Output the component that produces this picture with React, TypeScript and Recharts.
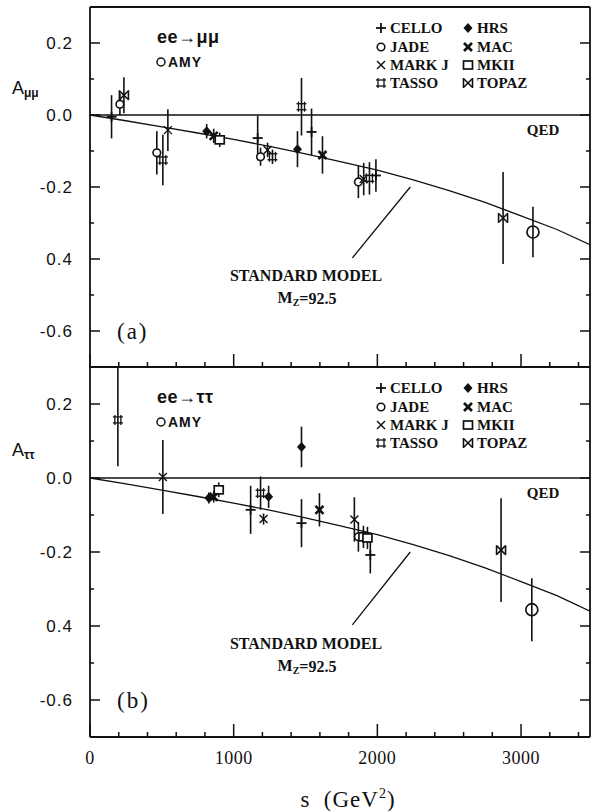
import React from 'react';
import { ComposedChart, Scatter, XAxis, YAxis, ErrorBar, ReferenceLine, Customized } from 'recharts';

// ---------- axes ----------
const xTicks = [0, 200, 400, 600, 800, 1000, 1200, 1400, 1600, 1800, 2000, 2200, 2400, 2600, 2800, 3000, 3200, 3400];
const xMajorTicks = [0, 1000, 2000, 3000];
const xTickLabels = ['0', '1000', '2000', '3000'];
const yTicks = [0.2, 0.1, 0, -0.1, -0.2, -0.3, -0.4, -0.5, -0.6];
const yMajorTicks = [0.2, 0, -0.2, -0.4, -0.6];
const yTickLabels = ['0.2', '0.0', '-0.2', '0.4', '-0.6'];

// ---------- standard model curve ----------
const smS = [0, 250, 500, 750, 1000, 1250, 1500, 1750, 2000, 2250, 2500, 2750, 3000, 3250, 3480];
const smA = [0, -0.016, -0.033, -0.05, -0.068, -0.087, -0.108, -0.13, -0.153, -0.18, -0.21, -0.243, -0.28, -0.318, -0.36];
const smData = smS.map((s, i) => ({ s, a: smA[i] }));

// ---------- (a) ee -> mu mu ----------
const muCELLO = [{ s: 150, a: -0.005, e: 0.06 }, { s: 1167, a: -0.064, e: 0.062 }, { s: 1542, a: -0.047, e: 0.065 }, { s: 1990, a: -0.168, e: 0.045 }];
const muJADE = [{ s: 208, a: 0.03, e: 0.03 }, { s: 465, a: -0.105, e: 0.06 }, { s: 1187, a: -0.116, e: 0.025 }, { s: 1868, a: -0.186, e: 0.045 }];
const muHRS = [{ s: 812, a: -0.045, e: 0.02 }, { s: 1444, a: -0.095, e: 0.05 }];
const muMAC = [{ s: 861, a: -0.058, e: 0.02 }, { s: 1618, a: -0.111, e: 0.052 }];
const muMARKJ = [{ s: 542, a: -0.042, e: 0.058 }, { s: 1236, a: -0.097, e: 0.02 }, { s: 1905, a: -0.178, e: 0.045 }];
const muMKII = [{ s: 903, a: -0.069, e: 0.02 }];
const muTASSO = [{ s: 507, a: -0.125, e: 0.07 }, { s: 1472, a: 0.023, e: 0.08 }, { s: 1270, a: -0.116, e: 0.02 }, { s: 1945, a: -0.176, e: 0.045 }];
const muTOPAZ = [{ s: 236, a: 0.055, e: 0.05 }, { s: 2875, a: -0.286, e: 0.128 }];
const muAMY = [{ s: 3083, a: -0.325, e: 0.07 }];

// ---------- (b) ee -> tau tau ----------
const tauCELLO = [{ s: 1118, a: -0.086, e: 0.065 }, { s: 1472, a: -0.122, e: 0.065 }, { s: 1951, a: -0.208, e: 0.05 }];
const tauJADE = [{ s: 1868, a: -0.159, e: 0.04 }];
const tauHRS = [{ s: 827, a: -0.054, e: 0.015 }, { s: 1243, a: -0.051, e: 0.03 }, { s: 1472, a: 0.084, e: 0.055 }];
const tauMAC = [{ s: 861, a: -0.051, e: 0.015 }, { s: 1597, a: -0.086, e: 0.045 }];
const tauMARKJ = [{ s: 507, a: 0.003, e: 0.1 }, { s: 1208, a: -0.111, e: 0.015 }, { s: 1840, a: -0.112, e: 0.06 }];
const tauMKII = [{ s: 896, a: -0.032, e: 0.02 }, { s: 1903, a: -0.159, e: 0.03 }, { s: 1931, a: -0.162, e: 0.03 }];
const tauTASSO = [{ s: 194, a: 0.157, e: [0.125, 0.14] }, { s: 1187, a: -0.041, e: 0.045 }];
const tauTOPAZ = [{ s: 2861, a: -0.195, e: 0.14 }];
const tauAMY = [{ s: 3075, a: -0.356, e: 0.085 }];

const legendCol1 = ['CELLO', 'JADE', 'MARK J', 'TASSO'];
const legendCol2 = ['HRS', 'MAC', 'MKII', 'TOPAZ'];

const INK = '#111';

function Marker({ kind, cx, cy }: { kind: string; cx: number; cy: number }) {
  switch (kind) {
    case 'CELLO':
      return (
        <g stroke={INK} strokeWidth={1.8}>
          <line x1={cx - 5} x2={cx + 5} y1={cy} y2={cy} />
          <line x1={cx} x2={cx} y1={cy - 5} y2={cy + 5} />
        </g>
      );
    case 'HRS':
      return <polygon points={`${cx},${cy - 5} ${cx + 4.5},${cy} ${cx},${cy + 5} ${cx - 4.5},${cy}`} fill={INK} />;
    case 'JADE':
      return <circle cx={cx} cy={cy} r={3.8} fill="#fff" stroke={INK} strokeWidth={1.6} />;
    case 'MAC':
      return (
        <g stroke={INK} strokeWidth={2.6}>
          <line x1={cx - 4} x2={cx + 4} y1={cy - 4} y2={cy + 4} />
          <line x1={cx - 4} x2={cx + 4} y1={cy + 4} y2={cy - 4} />
        </g>
      );
    case 'MARK J':
      return (
        <g stroke={INK} strokeWidth={1.4}>
          <line x1={cx - 4} x2={cx + 4} y1={cy - 4} y2={cy + 4} />
          <line x1={cx - 4} x2={cx + 4} y1={cy + 4} y2={cy - 4} />
        </g>
      );
    case 'MKII':
      return <rect x={cx - 4.5} y={cy - 4} width={9} height={8} fill="#fff" stroke={INK} strokeWidth={1.7} />;
    case 'TASSO':
      return (
        <g stroke={INK} strokeWidth={1.3}>
          <line x1={cx - 5} x2={cx + 5} y1={cy - 3} y2={cy - 3} />
          <line x1={cx - 5} x2={cx + 5} y1={cy + 3} y2={cy + 3} />
          <line x1={cx - 3} x2={cx - 3} y1={cy - 5} y2={cy + 5} />
          <line x1={cx + 3} x2={cx + 3} y1={cy - 5} y2={cy + 5} />
        </g>
      );
    case 'TOPAZ':
      return (
        <g stroke={INK} strokeWidth={1.6}>
          <line x1={cx - 4} x2={cx + 4} y1={cy - 4} y2={cy + 4} />
          <line x1={cx - 4} x2={cx + 4} y1={cy + 4} y2={cy - 4} />
          <line x1={cx - 4.5} x2={cx - 4.5} y1={cy - 5} y2={cy + 5} />
          <line x1={cx + 4.5} x2={cx + 4.5} y1={cy - 5} y2={cy + 5} />
        </g>
      );
    case 'AMY':
      return <circle cx={cx} cy={cy} r={6} fill="none" stroke={INK} strokeWidth={1.7} />;
    default:
      return <g />;
  }
}

const isMajorY = (v: number) => yMajorTicks.some((m) => Math.abs(m - v) < 1e-6);
const yLabelOf = (v: number) => yTickLabels[yMajorTicks.findIndex((m) => Math.abs(m - v) < 1e-6)];

function BottomTick(props: any, showLabel: boolean) {
  const { x, y, payload } = props;
  const v = payload.value;
  const idx = xMajorTicks.indexOf(v);
  const major = idx >= 0;
  return (
    <g>
      <line x1={x} x2={x} y1={y} y2={y - (major ? 13 : 5)} stroke={INK} strokeWidth={1.5} />
      {showLabel && major ? (
        <text x={x} y={y + 21} textAnchor="middle" dominantBaseline="central" fontFamily="Liberation Serif" fontSize={18} letterSpacing={0.5} fill={INK}>
          {xTickLabels[idx]}
        </text>
      ) : null}
    </g>
  );
}

function TopTick(props: any) {
  const { x, y, payload } = props;
  const major = xMajorTicks.indexOf(payload.value) >= 0;
  return <line x1={x} x2={x} y1={y} y2={y + (major ? 13 : 5)} stroke={INK} strokeWidth={1.5} />;
}

function LeftTick(props: any) {
  const { x, y, payload } = props;
  const major = isMajorY(payload.value);
  return (
    <g>
      <line x1={x} x2={x + (major ? 10 : 4)} y1={y} y2={y} stroke={INK} strokeWidth={1.5} />
      {major ? (
        <text x={x - 17} y={y} textAnchor="end" dominantBaseline="central" fontFamily="Liberation Sans" fontSize={17} letterSpacing={1} fill={INK}>
          {yLabelOf(payload.value)}
        </text>
      ) : null}
    </g>
  );
}

function RightTick(props: any) {
  const { x, y, payload } = props;
  const major = isMajorY(payload.value);
  return <line x1={x} x2={x - (major ? 10 : 4)} y1={y} y2={y} stroke={INK} strokeWidth={1.5} />;
}

type Series = { kind: string; data: any[] };

function Annotations({ zeroY, unit, process, sub, tag }: { zeroY: number; unit: number; process: string; sub: string; tag: string }) {
  const py = (a: number) => zeroY - a * unit;
  const top = py(0.3);
  const rows = [21, 40, 58, 76];
  return (
    <g fill={INK}>
      <text x={157} y={top + 30} dominantBaseline="central" fontFamily="Liberation Sans" fontWeight="bold" fontSize={18} letterSpacing={0.5}>
        {process}
      </text>
      <circle cx={161} cy={top + 55} r={4} fill="none" stroke={INK} strokeWidth={1.5} />
      <text x={168} y={top + 55} dominantBaseline="central" fontFamily="Liberation Sans" fontWeight="bold" fontSize={14} letterSpacing={1}>
        AMY
      </text>
      {legendCol1.map((k, i) => (
        <g key={k}>
          <Marker kind={k} cx={381} cy={top + rows[i]} />
          <text x={390} y={top + rows[i]} dominantBaseline="central" fontFamily="Liberation Serif" fontWeight="bold" fontSize={15}>
            {k === 'MARK J' ? 'MARK  J' : k}
          </text>
        </g>
      ))}
      {legendCol2.map((k, i) => (
        <g key={k}>
          <Marker kind={k} cx={468} cy={top + rows[i]} />
          <text x={477} y={top + rows[i]} dominantBaseline="central" fontFamily="Liberation Serif" fontWeight="bold" fontSize={15}>
            {k}
          </text>
        </g>
      ))}
      <text x={543} y={zeroY + 15} textAnchor="middle" dominantBaseline="central" fontFamily="Liberation Serif" fontWeight="bold" fontSize={15}>
        QED
      </text>
      <text x={306} y={py(-0.447)} textAnchor="middle" dominantBaseline="central" fontFamily="Liberation Serif" fontWeight="bold" fontSize={16}>
        STANDARD MODEL
      </text>
      <text x={307} y={py(-0.507)} textAnchor="middle" dominantBaseline="central" fontFamily="Liberation Serif" fontWeight="bold" fontSize={16}>
        M<tspan fontSize={10} dy={4}>Z</tspan>
        <tspan dy={-4}>=92.5</tspan>
      </text>
      <text x={117} y={py(-0.6)} dominantBaseline="central" fontFamily="Liberation Serif" fontSize={23} letterSpacing={2}>
        {tag}
      </text>
      <text x={12} y={py(0.075)} dominantBaseline="central" fontFamily="Liberation Sans" fontSize={18}>
        A<tspan fontSize={12} fontWeight="bold" dy={5}>{sub}</tspan>
      </text>
    </g>
  );
}

function Panel({ height, top, bottom, series, showXLabels, zeroY, unit, process, sub, tag }: any) {
  return (
    <div style={{ position: 'absolute', left: 0, top: 0 }}>
      <ComposedChart width={591} height={height} margin={{ top, right: 0, bottom, left: 0 }}>
        <XAxis xAxisId="b" type="number" dataKey="s" domain={[0, 3480]} ticks={xTicks} interval={0} orientation="bottom" height={1}
          tickSize={0} tickMargin={0} axisLine={{ stroke: INK, strokeWidth: 1.8 }} tick={(p: any) => BottomTick(p, showXLabels)} allowDataOverflow />
        <XAxis xAxisId="t" type="number" domain={[0, 3480]} ticks={xTicks} interval={0} orientation="top" height={1}
          tickSize={0} tickMargin={0} axisLine={{ stroke: INK, strokeWidth: 1.8 }} tick={TopTick} allowDataOverflow />
        <YAxis yAxisId="l" type="number" dataKey="a" domain={[-0.7, 0.3]} ticks={yTicks} interval={0} width={90}
          tickSize={0} tickMargin={0} axisLine={{ stroke: INK, strokeWidth: 1.8 }} tick={LeftTick} allowDataOverflow />
        <YAxis yAxisId="r" type="number" orientation="right" domain={[-0.7, 0.3]} ticks={yTicks} interval={0} width={1}
          tickSize={0} tickMargin={0} axisLine={{ stroke: INK, strokeWidth: 1.8 }} tick={RightTick} allowDataOverflow />
        <ReferenceLine xAxisId="b" yAxisId="l" y={0} stroke={INK} strokeWidth={1.3} />
        <ReferenceLine xAxisId="b" yAxisId="l" segment={[{ x: 2229, y: -0.2 }, { x: 1826, y: -0.397 }]} stroke={INK} strokeWidth={1.3} />
        <Scatter xAxisId="b" yAxisId="l" data={smData} line={{ stroke: INK, strokeWidth: 1.3 }} lineType="joint" shape={() => <g />} isAnimationActive={false} />
        {series.map((se: Series) => (
          <Scatter key={se.kind} xAxisId="b" yAxisId="l" data={se.data} isAnimationActive={false}
            shape={(p: any) => <Marker kind={se.kind} cx={p.cx} cy={p.cy} />}>
            <ErrorBar dataKey="e" direction="y" width={0} stroke={INK} strokeWidth={1.6} isAnimationActive={false} />
          </Scatter>
        ))}
        <Customized component={<Annotations zeroY={zeroY} unit={unit} process={process} sub={sub} tag={tag} />} />
      </ComposedChart>
    </div>
  );
}

const muSeries: Series[] = [
  { kind: 'CELLO', data: muCELLO }, { kind: 'JADE', data: muJADE }, { kind: 'HRS', data: muHRS }, { kind: 'MAC', data: muMAC },
  { kind: 'MARK J', data: muMARKJ }, { kind: 'MKII', data: muMKII }, { kind: 'TASSO', data: muTASSO }, { kind: 'TOPAZ', data: muTOPAZ },
  { kind: 'AMY', data: muAMY },
];
const tauSeries: Series[] = [
  { kind: 'CELLO', data: tauCELLO }, { kind: 'JADE', data: tauJADE }, { kind: 'HRS', data: tauHRS }, { kind: 'MAC', data: tauMAC },
  { kind: 'MARK J', data: tauMARKJ }, { kind: 'MKII', data: tauMKII }, { kind: 'TASSO', data: tauTASSO }, { kind: 'TOPAZ', data: tauTOPAZ },
  { kind: 'AMY', data: tauAMY },
];

export default function App() {
  return (
    <div style={{ position: 'absolute', left: 0, top: 0, width: 591, height: 811, background: '#fff' }}>
      <Panel height={370} top={6} bottom={2} series={muSeries} showXLabels={false} zeroY={115} unit={360}
        process="ee→μμ" sub="μμ" tag="(a)" />
      <Panel height={811} top={366} bottom={73} series={tauSeries} showXLabels={true} zeroY={478} unit={370}
        process="ee→ττ" sub="ττ" tag="(b)" />
      <div style={{ position: 'absolute', left: 0, top: 786, width: 696, textAlign: 'center', fontFamily: 'Liberation Serif', fontSize: 23, color: INK, letterSpacing: 1 }}>
        s&nbsp;&nbsp;(GeV<sup style={{ fontSize: 14 }}>2</sup>)
      </div>
    </div>
  );
}
